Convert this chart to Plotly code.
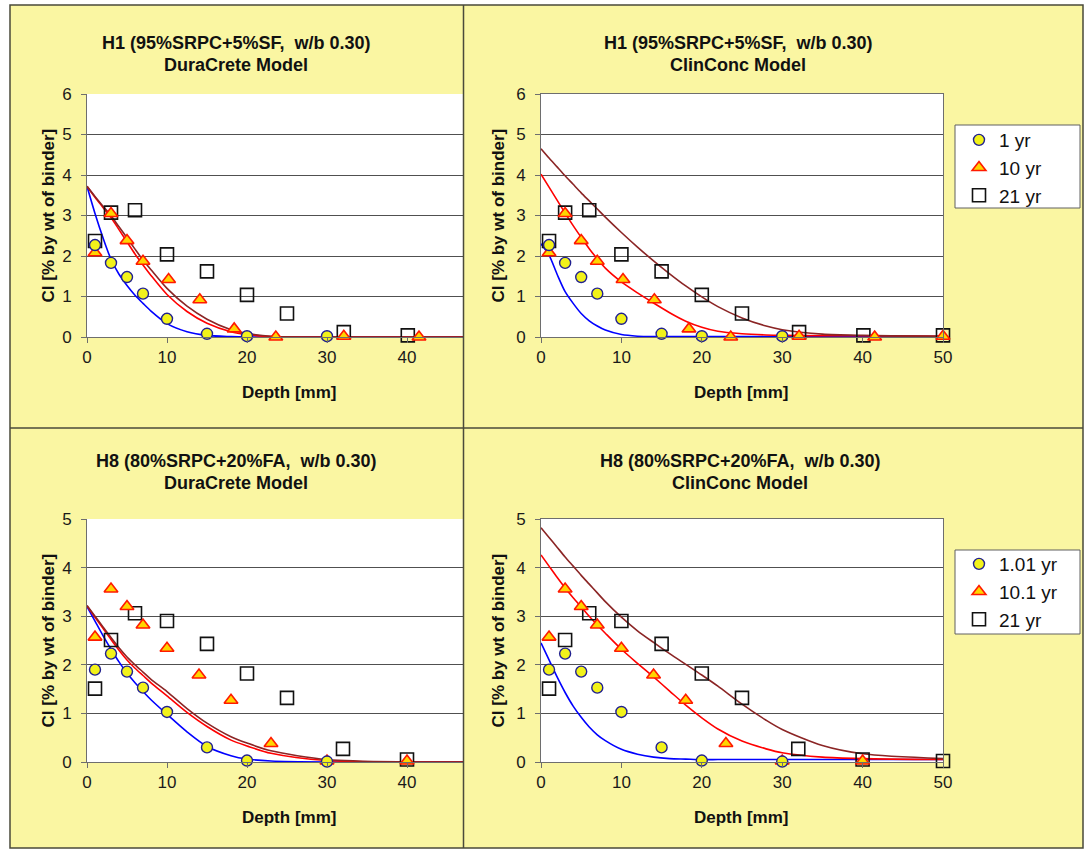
import plotly.graph_objects as go

W, H = 1086, 852

# ---------------- measured data (H1: 95%SRPC+5%SF) ----------------
h1_depth_1yr = [1, 3, 5, 7, 10, 15, 20, 30]
h1_cl_1yr = [2.27, 1.83, 1.48, 1.07, 0.45, 0.08, 0.02, 0.02]
h1_depth_10yr = [1, 3, 5, 7, 10.2, 14.1, 18.4, 23.6, 32.1, 41.5, 50]
h1_cl_10yr = [2.08, 3.05, 2.38, 1.87, 1.42, 0.92, 0.20, 0.0, 0.02, 0.0, 0.02]
h1_depth_21yr = [1, 3, 6, 10, 15, 20, 25, 32.1, 40.1, 50]
h1_cl_21yr = [2.37, 3.07, 3.13, 2.04, 1.62, 1.04, 0.58, 0.12, 0.04, 0.04]

# ---------------- measured data (H8: 80%SRPC+20%FA) ----------------
h8_depth_1yr = [1, 3, 5, 7, 10, 15, 20, 30]
h8_cl_1yr = [1.90, 2.23, 1.86, 1.53, 1.03, 0.30, 0.03, 0.01]
h8_depth_10yr = [1, 3, 5, 7, 10, 14, 18, 23, 30, 40]
h8_cl_10yr = [2.57, 3.56, 3.20, 2.82, 2.34, 1.79, 1.27, 0.38, 0.02, 0.02]
h8_depth_21yr = [1, 3, 6, 10, 15, 20, 25, 32, 40, 50]
h8_cl_21yr = [1.51, 2.51, 3.06, 2.90, 2.43, 1.82, 1.32, 0.27, 0.05, 0.02]

# ---------------- model curves ----------------
dc_depth = [0, 1, 2, 3, 4, 5, 6, 7, 8, 10, 12.5, 15, 18, 20, 23, 30, 40, 50]
h1_dc_1yr = [3.72, 3.05, 2.45, 1.92, 1.55, 1.27, 1.03, 0.83, 0.64, 0.33, 0.13, 0.04, 0.01, 0, 0, 0, 0, 0]
h1_dc_10yr = [3.72, 3.45, 3.20, 2.95, 2.65, 2.35, 2.05, 1.78, 1.52, 1.05, 0.63, 0.34, 0.13, 0.06, 0.01, 0, 0, 0]
h1_dc_21yr = [3.72, 3.47, 3.23, 3.00, 2.72, 2.45, 2.17, 1.90, 1.66, 1.20, 0.76, 0.44, 0.18, 0.09, 0.02, 0, 0, 0]

h8_dc_1yr = [3.20, 2.90, 2.60, 2.32, 2.06, 1.83, 1.63, 1.45, 1.28, 0.98, 0.62, 0.32, 0.13, 0.06, 0.02, 0, 0, 0]
h8_dc_10yr = [3.21, 2.98, 2.75, 2.52, 2.30, 2.10, 1.93, 1.78, 1.63, 1.36, 1.02, 0.73, 0.45, 0.33, 0.18, 0.03, 0, 0]
h8_dc_21yr = [3.22, 3.00, 2.78, 2.56, 2.35, 2.16, 2.00, 1.85, 1.70, 1.45, 1.10, 0.80, 0.52, 0.39, 0.23, 0.05, 0, 0]

cc_depth = [0, 1, 2, 3, 4, 5, 6, 7, 8, 10, 12, 14, 16, 18, 20, 22, 25, 28, 30, 35, 40, 50]
h1_cc_1yr = [2.30, 2.02, 1.55, 1.12, 0.83, 0.58, 0.40, 0.27, 0.17, 0.06, 0.02, 0.01, 0.01, 0.01, 0.01, 0.01, 0.01, 0.01, 0.01, 0.01, 0.01, 0.01]
h1_cc_10yr = [4.02, 3.70, 3.38, 3.06, 2.75, 2.46, 2.18, 1.93, 1.70, 1.36, 1.09, 0.84, 0.60, 0.39, 0.24, 0.14, 0.08, 0.05, 0.04, 0.03, 0.03, 0.02]
h1_cc_21yr = [4.65, 4.42, 4.20, 3.98, 3.77, 3.56, 3.36, 3.16, 2.96, 2.58, 2.22, 1.88, 1.56, 1.26, 0.99, 0.75, 0.47, 0.27, 0.18, 0.07, 0.04, 0.02]

h8_cc_1yr = [2.45, 2.10, 1.75, 1.43, 1.15, 0.92, 0.72, 0.56, 0.44, 0.26, 0.16, 0.10, 0.07, 0.06, 0.05, 0.05, 0.05, 0.05, 0.05, 0.05, 0.05, 0.05]
h8_cc_10yr = [4.26, 4.03, 3.80, 3.58, 3.38, 3.19, 3.00, 2.82, 2.65, 2.32, 2.03, 1.75, 1.46, 1.17, 0.91, 0.68, 0.43, 0.27, 0.19, 0.10, 0.07, 0.05]
h8_cc_21yr = [4.82, 4.62, 4.42, 4.22, 4.03, 3.84, 3.66, 3.48, 3.30, 2.98, 2.70, 2.46, 2.23, 2.01, 1.79, 1.56, 1.19, 0.86, 0.67, 0.34, 0.17, 0.07]

# ---------------- text ----------------
titles = [
    ("H1 (95%SRPC+5%SF,  w/b 0.30)", "DuraCrete Model"),
    ("H1 (95%SRPC+5%SF,  w/b 0.30)", "ClinConc Model"),
    ("H8 (80%SRPC+20%FA,  w/b 0.30)", "DuraCrete Model"),
    ("H8 (80%SRPC+20%FA,  w/b 0.30)", "ClinConc Model"),
]
xlabel = "Depth [mm]"
ylabel = "Cl [% by wt of binder]"
h1_names = ["1 yr", "10 yr", "21 yr"]
h8_names = ["1.01 yr", "10.1 yr", "21 yr"]

FONT = "Arial, 'Liberation Sans', sans-serif"
YELLOW = "#FAF6A2"
BLUE, RED, BROWN = "#0000FF", "#FF0000", "#8B2525"


def fx(p):
    return p / W


def fy(p):
    return 1 - p / H


panels = [
    dict(ax="", xd=(87, 463), yd=(94, 337), xmax=47.0, ymax=6, cx=236, ylx=48, top=43, xlx=289,
         meas=(h1_depth_1yr, h1_cl_1yr, h1_depth_10yr, h1_cl_10yr, h1_depth_21yr, h1_cl_21yr),
         mx=dc_depth, model=(h1_dc_1yr, h1_dc_10yr, h1_dc_21yr), names=h1_names, legend=None, mirror=False),
    dict(ax="2", xd=(541, 943), yd=(94, 337), xmax=50, ymax=6, cx=738, ylx=498, top=43, xlx=741,
         meas=(h1_depth_1yr, h1_cl_1yr, h1_depth_10yr, h1_cl_10yr, h1_depth_21yr, h1_cl_21yr),
         mx=cc_depth, model=(h1_cc_1yr, h1_cc_10yr, h1_cc_21yr), names=h1_names, legend="legend", mirror=True),
    dict(ax="3", xd=(87, 463), yd=(519, 762), xmax=47.0, ymax=5, cx=236, ylx=48, top=461, xlx=289,
         meas=(h8_depth_1yr, h8_cl_1yr, h8_depth_10yr, h8_cl_10yr, h8_depth_21yr, h8_cl_21yr),
         mx=dc_depth, model=(h8_dc_1yr, h8_dc_10yr, h8_dc_21yr), names=h8_names, legend=None, mirror=False),
    dict(ax="4", xd=(541, 943), yd=(519, 762), xmax=50, ymax=5, cx=740, ylx=498, top=461, xlx=741,
         meas=(h8_depth_1yr, h8_cl_1yr, h8_depth_10yr, h8_cl_10yr, h8_depth_21yr, h8_cl_21yr),
         mx=cc_depth, model=(h8_cc_1yr, h8_cc_10yr, h8_cc_21yr), names=h8_names, legend="legend2", mirror=True),
]

fig = go.Figure()
shapes = []
annotations = []

# white outer frame around the yellow panels
for x0, x1, y0, y1 in ((0, 10, 0, H), (1083, W, 0, H), (0, W, 0, 5), (0, W, 848, H)):
    shapes.append(dict(type="rect", xref="paper", yref="paper", x0=fx(x0), x1=fx(x1), y0=fy(y1), y1=fy(y0),
                       fillcolor="white", line=dict(width=0), layer="below"))

for i, p in enumerate(panels):
    xa, ya = "x" + p["ax"], "y" + p["ax"]
    for vals, col in zip(p["model"], (BLUE, RED, BROWN)):
        fig.add_trace(go.Scatter(x=p["mx"], y=vals, mode="lines", xaxis=xa, yaxis=ya,
                                 line=dict(color=col, width=1.6, shape="spline", smoothing=0.8),
                                 showlegend=False, hoverinfo="skip"))
    d1, c1, d10, c10, d21, c21 = p["meas"]

    def keep(dx, cy, lim=p["xmax"]):
        pts = [(a, b) for a, b in zip(dx, cy) if a <= lim]
        return [a for a, _ in pts], [b for _, b in pts]

    specs = [
        (d21, c21, p["names"][2], dict(symbol="square-open", size=13, color="#111111", line=dict(width=1.6, color="#111111")), 3),
        (d10, c10, p["names"][1], dict(symbol="triangle-up", size=12, color="#FFD500", line=dict(width=1.6, color="#FF1A00")), 2),
        (d1, c1, p["names"][0], dict(symbol="circle", size=11, color="#F2F21A", line=dict(width=1.4, color="#202090")), 1),
    ]
    for dx, cy, nm, mk, rank in specs:
        xs, ys = keep(dx, cy)
        if p["legend"]:
            kw = dict(showlegend=True, legend=p["legend"], legendgroup=p["legend"] + nm, legendrank=rank)
        else:
            kw = dict(showlegend=False)
        fig.add_trace(go.Scatter(x=xs, y=ys, mode="markers", name=nm, xaxis=xa, yaxis=ya,
                                 marker=mk, cliponaxis=False, **kw))

    axis_common = dict(showline=True, linecolor="#6e6e6e", linewidth=1, ticks="outside", ticklen=5,
                       tickcolor="#6e6e6e", tickfont=dict(family=FONT, size=17, color="#1a1a1a"),
                       zeroline=False, fixedrange=True, mirror=p["mirror"], automargin=False)
    fig.update_layout(**{
        ("xaxis" + p["ax"]): dict(domain=[fx(p["xd"][0]), fx(p["xd"][1])], range=[0, p["xmax"]], anchor=ya,
                                  tick0=0, dtick=10, showgrid=False, **axis_common),
        ("yaxis" + p["ax"]): dict(domain=[fy(p["yd"][1]), fy(p["yd"][0])], range=[0, p["ymax"]], anchor=xa,
                                  tick0=0, dtick=1, showgrid=True, gridcolor="#505050", gridwidth=1,
                                  ticklabelstandoff=6, **axis_common),
    })
    annotations.append(dict(text="<b>%s</b>" % titles[i][0], x=fx(p["cx"]), y=fy(p["top"]), xref="paper", yref="paper",
                            showarrow=False, xanchor="center", yanchor="middle",
                            font=dict(family=FONT, size=18, color="#111111")))
    annotations.append(dict(text="<b>%s</b>" % titles[i][1], x=fx(p["cx"]), y=fy(p["top"] + 22), xref="paper", yref="paper",
                            showarrow=False, xanchor="center", yanchor="middle",
                            font=dict(family=FONT, size=18, color="#111111")))
    annotations.append(dict(text="<b>%s</b>" % xlabel, x=fx(p["xlx"]), y=fy(p["yd"][1] + 55),
                            xref="paper", yref="paper", showarrow=False, xanchor="center", yanchor="middle",
                            font=dict(family=FONT, size=17, color="#111111")))
    annotations.append(dict(text="<b>%s</b>" % ylabel, x=fx(p["ylx"]), y=fy((p["yd"][0] + p["yd"][1]) / 2),
                            xref="paper", yref="paper", showarrow=False, textangle=-90, xanchor="center", yanchor="middle",
                            font=dict(family=FONT, size=17, color="#111111")))

# legend boxes
for y0, y1 in ((125, 208), (550, 634)):
    shapes.append(dict(type="rect", xref="paper", yref="paper", x0=fx(955), x1=fx(1080), y0=fy(y1), y1=fy(y0),
                       fillcolor="white", line=dict(width=1, color="#606060"), layer="below"))

# panel borders
shapes.append(dict(type="rect", xref="paper", yref="paper", x0=fx(10), x1=fx(1083), y0=fy(848), y1=fy(5),
                   line=dict(width=1.5, color="#4a4a3a"), layer="above"))
shapes.append(dict(type="line", xref="paper", yref="paper", x0=fx(463.5), x1=fx(463.5), y0=fy(848), y1=fy(5),
                   line=dict(width=1.5, color="#4a4a3a"), layer="above"))
shapes.append(dict(type="line", xref="paper", yref="paper", x0=fx(10), x1=fx(1083), y0=fy(428), y1=fy(428),
                   line=dict(width=1.5, color="#4a4a3a"), layer="above"))

leg_common = dict(xref="paper", yref="paper", xanchor="left", yanchor="top", bgcolor="rgba(0,0,0,0)",
                  borderwidth=0, font=dict(family=FONT, size=19, color="#111111"), tracegroupgap=0,
                  itemwidth=30, traceorder="grouped")
fig.update_layout(
    template="none",
    width=W, height=H, margin=dict(l=0, r=0, t=0, b=0, autoexpand=False),
    paper_bgcolor=YELLOW, plot_bgcolor="white",
    shapes=shapes, annotations=annotations,
    legend=dict(x=fx(959), y=fy(121), **leg_common),
    legend2=dict(x=fx(959), y=fy(545), **leg_common),
    font=dict(family=FONT),
)

fig.write_html("out.html")
